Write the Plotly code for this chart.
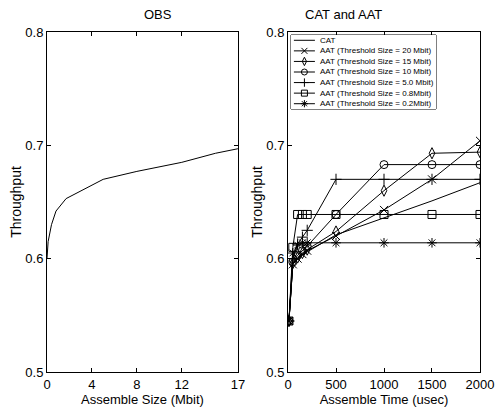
import plotly.graph_objects as go

# ---- data ----
obs_size = [0, 0.1, 0.4, 0.8, 1.7, 5, 8, 12, 15, 17]
obs_thr = [0.600, 0.615, 0.630, 0.642, 0.653, 0.670, 0.677, 0.685, 0.693, 0.697]

t_usec = [10, 50, 100, 150, 200, 500, 1000, 1500, 2000]
cat = [0.545, 0.595, 0.600, 0.603, 0.606, 0.621, 0.636, 0.651, 0.667]
aat_20 = [0.545, 0.595, 0.600, 0.604, 0.607, 0.620, 0.643, 0.670, 0.704]
aat_15 = [0.545, 0.596, 0.601, 0.605, 0.608, 0.624, 0.660, 0.693, 0.694]
aat_10 = [0.545, 0.597, 0.603, 0.607, 0.611, 0.639, 0.683, 0.683, 0.683]
aat_5 = [0.545, 0.600, 0.613, 0.619, 0.625, 0.670, 0.670, 0.670, 0.670]
aat_08 = [0.545, 0.610, 0.639, 0.639, 0.639, 0.639, 0.639, 0.639, 0.639]
aat_02 = [0.545, 0.605, 0.612, 0.614, 0.614, 0.614, 0.614, 0.614, 0.614]

series_names = ["CAT",
                "AAT (Threshold Size = 20 Mbit)",
                "AAT (Threshold Size = 15 Mbit)",
                "AAT (Threshold Size = 10 Mbit)",
                "AAT (Threshold Size = 5.0 Mbit)",
                "AAT (Threshold Size = 0.8Mbit)",
                "AAT (Threshold Size = 0.2Mbit)"]
series_values = [cat, aat_20, aat_15, aat_10, aat_5, aat_08, aat_02]

left_xticks = [0, 4, 8, 12, 17]
right_xticks = [0, 500, 1000, 1500, 2000]
yticks = [0.5, 0.6, 0.7, 0.8]
yticklabels = ["0.5", "0.6", "0.7", "0.8"]

# ---- styles ----
symbols = [None, "x-thin-open", "diamond-tall-open", "circle-open",
           "cross-thin-open", "square-open", "asterisk-open"]
FONT = "Liberation Sans, Arial, sans-serif"

fig = go.Figure()
fig.add_trace(go.Scatter(x=obs_size, y=obs_thr, mode="lines",
                         line=dict(color="black", width=1),
                         xaxis="x", yaxis="y", showlegend=False))

for name, ys, sym in zip(series_names, series_values, symbols):
    mode = "lines" if sym is None else "lines+markers"
    fig.add_trace(go.Scatter(x=t_usec, y=ys, name=name, mode=mode,
                             line=dict(color="black", width=1),
                             marker=dict(symbol=sym or "circle", size=8, color="black",
                                         line=dict(color="black", width=1)),
                             xaxis="x2", yaxis="y2", showlegend=False))

# ---- compact legend drawn on an auxiliary axis pair (key samples + text) ----
n = len(series_names)
annotations = []
for i, (name, sym) in enumerate(zip(series_names, symbols)):
    yc = n - 0.5 - i
    fig.add_trace(go.Scatter(x=[0.02, 0.165], y=[yc, yc], mode="lines",
                             line=dict(color="black", width=1),
                             xaxis="x3", yaxis="y3", showlegend=False, hoverinfo="skip"))
    if sym is not None:
        fig.add_trace(go.Scatter(x=[0.0925], y=[yc], mode="markers",
                                 marker=dict(symbol=sym, size=6, color="black",
                                             line=dict(color="black", width=1)),
                                 xaxis="x3", yaxis="y3", showlegend=False, hoverinfo="skip"))
    annotations.append(dict(text=name, x=0.185, y=yc, xref="x3", yref="y3",
                            xanchor="left", yanchor="middle", showarrow=False,
                            font=dict(family=FONT, size=8, color="black")))

axis_common = dict(showline=True, linecolor="black", linewidth=1, mirror="ticks",
                   ticks="inside", ticklen=4, tickcolor="black", showgrid=False,
                   zeroline=False, automargin=False,
                   tickfont=dict(family=FONT, size=13, color="black"))

# legend box in paper coordinates
lx0, lx1 = (291 - 47) / 433, (436 - 47) / 433
ly0, ly1 = (372 - 109) / 340, (372 - 35) / 340

annotations += [
    dict(text="OBS", x=0.2205, y=1.08, xref="paper", yref="paper",
         showarrow=False, font=dict(family=FONT, size=13)),
    dict(text="CAT and AAT", x=0.778, y=1.08, xref="paper", yref="paper",
         showarrow=False, font=dict(family=FONT, size=13)),
]

fig.update_layout(
    width=496, height=415,
    margin=dict(l=47, r=16, t=32, b=43),
    paper_bgcolor="white", plot_bgcolor="white",
    font=dict(family=FONT, size=13, color="black"),
    xaxis=dict(domain=[0, 0.441], range=[0, 17], tickvals=left_xticks,
               title=dict(text="Assemble Size (Mbit)", standoff=2,
                          font=dict(family=FONT, size=13)), **axis_common),
    yaxis=dict(domain=[0, 1], range=[0.5, 0.8], tickvals=yticks, ticktext=yticklabels,
               title=dict(text="Throughput", standoff=0,
                          font=dict(family=FONT, size=14)), **axis_common),
    xaxis2=dict(domain=[0.5566, 1], range=[0, 2000], tickvals=right_xticks, anchor="y2",
                title=dict(text="Assemble Time (usec)", standoff=2,
                           font=dict(family=FONT, size=13)), **axis_common),
    yaxis2=dict(domain=[0, 1], range=[0.5, 0.8], tickvals=yticks, ticktext=yticklabels,
                anchor="x2",
                title=dict(text="Throughput", standoff=0,
                           font=dict(family=FONT, size=14)), **axis_common),
    xaxis3=dict(domain=[lx0, lx1], range=[0, 1], visible=False, anchor="y3",
                fixedrange=True),
    yaxis3=dict(domain=[ly0, ly1], range=[0, n], visible=False, anchor="x3",
                fixedrange=True),
    shapes=[dict(type="rect", xref="paper", yref="paper", x0=lx0, x1=lx1,
                 y0=ly0, y1=ly1, line=dict(color="black", width=1),
                 fillcolor="white", layer="below")],
    annotations=annotations,
    showlegend=False,
)

fig.write_html("out.html", config={"displayModeBar": False},
               post_script="document.body.style.margin='0px';")
